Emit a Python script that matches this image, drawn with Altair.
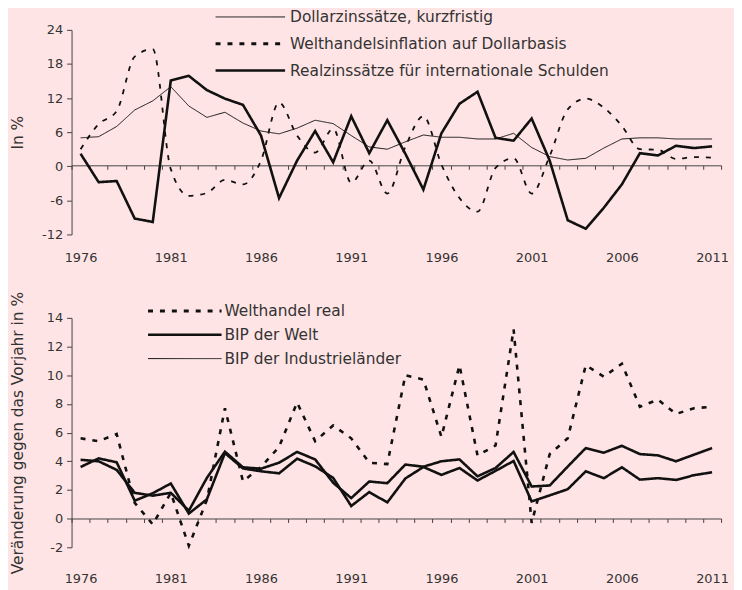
import altair as alt
import pandas as pd

# ---------------- data ----------------
years = list(range(1976, 2012))

top_names = [
    "Dollarzinssätze, kurzfristig",
    "Welthandelsinflation auf Dollarbasis",
    "Realzinssätze für internationale Schulden",
]
dollar_rates = [5.0, 5.2, 7.0, 9.9, 11.5, 14.0, 10.6, 8.6, 9.5, 7.6, 6.2, 5.7,
                6.7, 8.1, 7.5, 5.4, 3.4, 3.0, 4.3, 5.5, 5.1, 5.1, 4.8, 4.8,
                5.8, 3.3, 1.7, 1.1, 1.4, 3.2, 4.8, 5.0, 5.0, 4.8, 4.8, 4.8]
trade_inflation = [3.0, 7.4, 9.7, 19.3, 20.6, -0.5, -5.2, -4.7, -2.4, -3.2, 1.0, 11.2,
                   5.4, 2.4, 6.6, -2.9, 1.0, -4.8, 3.4, 8.8, 0.3, -5.6, -8.0, -0.3,
                   1.4, -4.8, 1.8, 10.0, 11.9, 10.3, 7.1, 3.0, 2.9, 1.3, 1.6, 1.5]
real_rates = [2.2, -2.8, -2.6, -9.2, -9.8, 15.1, 15.9, 13.4, 11.9, 10.8, 5.4, -5.6,
              1.0, 6.2, 0.7, 8.8, 2.3, 8.1, 2.2, -4.1, 5.8, 11.0, 13.1, 5.0,
              4.5, 8.4, 1.0, -9.5, -11.0, -7.3, -3.2, 2.3, 1.9, 3.6, 3.2, 3.5]

bottom_names = ["Welthandel real", "BIP der Welt", "BIP der Industrieländer"]
world_trade = [5.6, 5.4, 5.9, 1.1, -0.4, 1.8, -1.9, 1.3, 7.7, 2.6, 3.6, 5.0,
               8.1, 5.4, 6.5, 5.6, 3.9, 3.8, 10.0, 9.7, 5.7, 10.7, 4.4, 5.1,
               13.2, -0.3, 4.5, 5.6, 10.7, 9.9, 10.8, 7.8, 8.3, 7.3, 7.7, 7.8]
world_gdp = [4.1, 4.0, 3.4, 1.8, 1.6, 1.8, 0.55, 2.84, 4.67, 3.58, 3.48, 3.9,
             4.65, 4.13, 2.5, 1.43, 2.59, 2.47, 3.77, 3.62, 4.0, 4.13, 2.95, 3.53,
             4.65, 2.24, 2.31, 3.63, 4.92, 4.6, 5.08, 4.5, 4.41, 4.0, 4.46, 4.92]
industrial_gdp = [3.6, 4.2, 3.93, 1.25, 1.77, 2.45, 0.35, 1.35, 4.57, 3.5, 3.3, 3.16,
                  4.18, 3.65, 2.84, 0.88, 1.85, 1.13, 2.8, 3.6, 3.05, 3.53, 2.66, 3.33,
                  4.02, 1.2, 1.62, 2.05, 3.3, 2.82, 3.58, 2.72, 2.82, 2.7, 3.03, 3.23]

top_ticks = [-12, -6, 0, 6, 12, 18, 24]
bottom_ticks = [-2, 0, 2, 4, 6, 8, 10, 12, 14]
year_labels = list(range(1976, 2012, 5))
boundaries = [y - 0.5 for y in years] + [years[-1] + 0.5]

top_df = pd.DataFrame({
    "Jahr": years * 3,
    "Wert": dollar_rates + trade_inflation + real_rates,
    "Serie": [top_names[0]] * 36 + [top_names[1]] * 36 + [top_names[2]] * 36,
})
bottom_df = pd.DataFrame({
    "Jahr": years * 3,
    "Wert": world_trade + world_gdp + industrial_gdp,
    "Serie": [bottom_names[0]] * 36 + [bottom_names[1]] * 36 + [bottom_names[2]] * 36,
})

# ---------------- styling ----------------
BG = "#FFE4E5"
TXT = "#333333"
AX = "#444444"
LINE = "#111111"
FONT = "DejaVu Sans"
W = 654
DOT = [5, 7]
SOLID = [1, 0]
BIG = 15.5


def make_panel(df, names, dashes, widths, dotted, smooth, ydom, yticks, ytitle, h,
               zero_offset, lab_pad, leg_x0, leg_x1, leg_tx, leg_rows):
    xscale = alt.Scale(domain=[years[0] - 0.5, years[-1] + 0.5], nice=False, zero=False)
    yscale = alt.Scale(domain=ydom, nice=False, zero=False)
    enc = dict(
        color=alt.Color("Serie:N", scale=alt.Scale(domain=names, range=[LINE] * 3), legend=None),
        strokeDash=alt.StrokeDash("Serie:N", scale=alt.Scale(domain=names, range=dashes), legend=None),
        strokeWidth=alt.StrokeWidth("Serie:N", scale=alt.Scale(domain=names, range=widths), legend=None),
    )
    y_enc = alt.Y("Wert:Q", scale=yscale, axis=alt.Axis(
        values=yticks, labelExpr="'' + datum.value", grid=False, domain=True,
        ticks=True, tickSize=5, labelPadding=4, labelFontSize=13, labelColor=TXT,
        domainColor=AX, tickColor=AX, title=ytitle, titleFontSize=BIG,
        titleFontWeight="normal", titleColor=TXT, titleX=-54,
        titleBaseline="middle", titleAngle=-90))
    x_lab = alt.X("Jahr:Q", scale=xscale, axis=alt.Axis(
        values=year_labels, labelExpr="'' + datum.value", domain=False, ticks=False,
        grid=False, labelPadding=lab_pad, labelFontSize=13, labelColor=TXT,
        title=None, orient="bottom"))
    x_zero = alt.X("Jahr:Q", scale=xscale, axis=alt.Axis(
        values=boundaries, labels=False, domain=True, ticks=True, tickSize=4,
        grid=False, offset=zero_offset, title=None, orient="bottom",
        domainColor=AX, tickColor=AX))
    base = alt.Chart(df)
    solid = base.transform_filter(alt.datum.Serie != dotted).mark_line(
        interpolate="linear").encode(x=x_lab, y=y_enc, **enc)
    dot = base.transform_filter(alt.datum.Serie == dotted).mark_line(
        interpolate="monotone" if smooth else "linear"
    ).encode(x=x_zero, y=y_enc, **enc)

    layers = [dot, solid]
    # hand-drawn legend (line sample + label) above the plot
    for name, dash, wdt, ry in zip(names, dashes, widths, leg_rows):
        ldf = pd.DataFrame({"Serie": [name]})
        layers.append(alt.Chart(ldf).mark_rule(
            color=LINE, strokeDash=dash, strokeWidth=(3 if dash == DOT else wdt)
        ).encode(x=alt.value(leg_x0), x2=alt.value(leg_x1), y=alt.value(ry)))
        layers.append(alt.Chart(ldf).mark_text(
            align="left", baseline="middle", fontSize=BIG, color=TXT, font=FONT
        ).encode(x=alt.value(leg_tx), y=alt.value(ry), text="Serie:N"))
    return alt.layer(*layers).resolve_axis(x="independent").properties(width=W, height=h)


top = make_panel(top_df, top_names, [SOLID, DOT, SOLID], [1.0, 2.6, 2.6],
                 top_names[1], True, [-12, 24], top_ticks, "In %", 206, -69.6, 17,
                 145, 215, 220, [-13, 14, 41])
bottom = make_panel(bottom_df, bottom_names, [DOT, SOLID, SOLID], [2.6, 2.6, 1.0],
                    bottom_names[0], False, [-2, 14], bottom_ticks,
                    "Veränderung gegen das Vorjahr in %", 231, -29, 25,
                    77, 151, 154, [-7, 17, 41])

chart = alt.vconcat(top, bottom, spacing=84, bounds="flush").resolve_scale(
    color="independent", strokeDash="independent", strokeWidth="independent"
).properties(
    padding={"left": 2, "top": 0, "right": 5, "bottom": 5},
    background=BG,
).configure(font=FONT).configure_view(stroke=None)

chart.save("out.html", embed_options={"renderer": "svg", "actions": False})
